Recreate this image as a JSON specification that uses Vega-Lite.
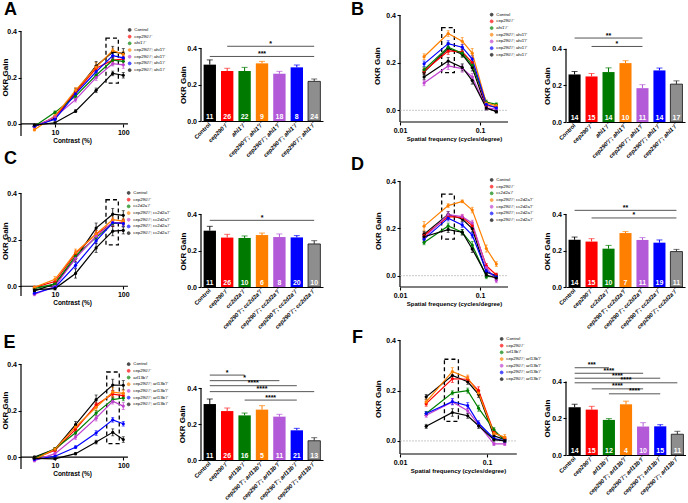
{
"$schema":"https://vega.github.io/schema/vega-lite/v6.json",
"padding":{"left":1,"top":1,"right":0,"bottom":0},
"background":"white",
"columns":4,
"spacing":{"row":44,"column":77},
"bounds":"flush",
"align":"each",
"resolve":{"scale":{"color":"independent","fill":"independent","x":"independent","y":"independent"},"legend":{"color":"independent"}},
"config":{"font":"Liberation Sans","view":{"stroke":null},
"axis":{"grid":false,"labelColor":"#000","titleColor":"#000","tickColor":"#000","domainColor":"#000","labelFont":"Liberation Sans","titleFont":"Liberation Sans","labelFlush":false,"labelOverlap":false,"titleBaseline":"bottom"},
"legend":{"labelFontSize":4.3,"labelFont":"Liberation Sans","labelColor":"#000","symbolSize":8,"symbolType":"circle","rowPadding":-1.3,"labelOffset":2.5,"padding":0,"labelLimit":200,"symbolStrokeWidth":1}},
"datasets":{
"boxes":[
{"p":"A","x1":55.8,"x2":84.6,"y1":0.176,"y2":0.37},
{"p":"C","x1":55.8,"x2":84.6,"y1":0.178,"y2":0.372},
{"p":"E","x1":57.2,"x2":87.3,"y1":0.058,"y2":0.367},
{"p":"B","x1":0.0332,"x2":0.0478,"y1":0.158,"y2":0.347},
{"p":"D","x1":0.0332,"x2":0.0478,"y1":0.155,"y2":0.346},
{"p":"F","x1":0.0324,"x2":0.0469,"y1":0.078,"y2":0.3245}],
"bars":[
{"p":"A","g":"Control","y":0.31,"hi":0.336,"n":11},
{"p":"A","g":"cep290⁻/⁻","y":0.275,"hi":0.29,"n":26},
{"p":"A","g":"ahi1⁻/⁻","y":0.275,"hi":0.295,"n":22},
{"p":"A","g":"cep290⁺/⁻; ahi1⁺/⁻","y":0.317,"hi":0.328,"n":9},
{"p":"A","g":"cep290⁻/⁻; ahi1⁺/⁻","y":0.26,"hi":0.273,"n":18},
{"p":"A","g":"cep290⁺/⁻; ahi1⁻/⁻","y":0.295,"hi":0.308,"n":8},
{"p":"A","g":"cep290⁻/⁻; ahi1⁻/⁻","y":0.218,"hi":0.231,"n":24},
{"p":"B","g":"Control","y":0.26,"hi":0.276,"n":14},
{"p":"B","g":"cep290⁻/⁻","y":0.249,"hi":0.265,"n":15},
{"p":"B","g":"ahi1⁻/⁻","y":0.273,"hi":0.296,"n":14},
{"p":"B","g":"cep290⁺/⁻; ahi1⁺/⁻","y":0.322,"hi":0.335,"n":10},
{"p":"B","g":"cep290⁻/⁻; ahi1⁺/⁻","y":0.185,"hi":0.204,"n":11},
{"p":"B","g":"cep290⁺/⁻; ahi1⁻/⁻","y":0.282,"hi":0.295,"n":14},
{"p":"B","g":"cep290⁻/⁻; ahi1⁻/⁻","y":0.207,"hi":0.225,"n":17},
{"p":"C","g":"Control","y":0.31,"hi":0.334,"n":11},
{"p":"C","g":"cep290⁻/⁻","y":0.272,"hi":0.29,"n":26},
{"p":"C","g":"cc2d2a⁻/⁻","y":0.27,"hi":0.281,"n":10},
{"p":"C","g":"cep290⁺/⁻; cc2d2a⁺/⁻","y":0.286,"hi":0.297,"n":6},
{"p":"C","g":"cep290⁻/⁻; cc2d2a⁺/⁻","y":0.275,"hi":0.292,"n":8},
{"p":"C","g":"cep290⁺/⁻; cc2d2a⁻/⁻","y":0.273,"hi":0.283,"n":20},
{"p":"C","g":"cep290⁻/⁻; cc2d2a⁻/⁻","y":0.237,"hi":0.255,"n":10},
{"p":"D","g":"Control","y":0.26,"hi":0.275,"n":14},
{"p":"D","g":"cep290⁻/⁻","y":0.25,"hi":0.266,"n":15},
{"p":"D","g":"cc2d2a⁻/⁻","y":0.211,"hi":0.229,"n":10},
{"p":"D","g":"cep290⁺/⁻; cc2d2a⁺/⁻","y":0.297,"hi":0.305,"n":7},
{"p":"D","g":"cep290⁻/⁻; cc2d2a⁺/⁻","y":0.259,"hi":0.272,"n":11},
{"p":"D","g":"cep290⁺/⁻; cc2d2a⁻/⁻","y":0.244,"hi":0.259,"n":19},
{"p":"D","g":"cep290⁻/⁻; cc2d2a⁻/⁻","y":0.195,"hi":0.207,"n":11},
{"p":"E","g":"Control","y":0.311,"hi":0.339,"n":11},
{"p":"E","g":"cep290⁻/⁻","y":0.272,"hi":0.289,"n":26},
{"p":"E","g":"arl13b⁻/⁻","y":0.248,"hi":0.261,"n":16},
{"p":"E","g":"cep290⁺/⁻; arl13b⁺/⁻","y":0.28,"hi":0.302,"n":5},
{"p":"E","g":"cep290⁻/⁻; arl13b⁺/⁻","y":0.241,"hi":0.254,"n":11},
{"p":"E","g":"cep290⁺/⁻; arl13b⁻/⁻","y":0.165,"hi":0.176,"n":21},
{"p":"E","g":"cep290⁻/⁻; arl13b⁻/⁻","y":0.107,"hi":0.124,"n":13},
{"p":"F","g":"Control","y":0.26,"hi":0.276,"n":14},
{"p":"F","g":"cep290⁻/⁻","y":0.247,"hi":0.265,"n":15},
{"p":"F","g":"arl13b⁻/⁻","y":0.191,"hi":0.198,"n":12},
{"p":"F","g":"cep290⁺/⁻; arl13b⁺/⁻","y":0.276,"hi":0.293,"n":4},
{"p":"F","g":"cep290⁻/⁻; arl13b⁺/⁻","y":0.155,"hi":0.176,"n":10},
{"p":"F","g":"cep290⁺/⁻; arl13b⁻/⁻","y":0.156,"hi":0.165,"n":15},
{"p":"F","g":"cep290⁻/⁻; arl13b⁻/⁻","y":0.113,"hi":0.129,"n":11}],
"sig":[
{"p":"A","a":"cep290⁻/⁻","b":"cep290⁻/⁻; ahi1⁻/⁻","y":0.411,"s":"*","m":"cep290⁺/⁻; ahi1⁺/⁻","h":1},
{"p":"A","a":"Control","b":"cep290⁻/⁻; ahi1⁻/⁻","y":0.355,"s":"***","m":"cep290⁺/⁻; ahi1⁺/⁻","h":0},
{"p":"B","a":"Control","b":"cep290⁻/⁻; ahi1⁺/⁻","y":0.459,"s":"**","m":"ahi1⁻/⁻","h":0},
{"p":"B","a":"cep290⁻/⁻","b":"cep290⁻/⁻; ahi1⁺/⁻","y":0.413,"s":"*","m":"ahi1⁻/⁻","h":1},
{"p":"C","a":"Control","b":"cep290⁻/⁻; cc2d2a⁻/⁻","y":0.367,"s":"*","m":"cep290⁺/⁻; cc2d2a⁺/⁻","h":0},
{"p":"D","a":"Control","b":"cep290⁻/⁻; cc2d2a⁻/⁻","y":0.422,"s":"**","m":"cep290⁺/⁻; cc2d2a⁺/⁻","h":0},
{"p":"D","a":"cep290⁻/⁻","b":"cep290⁻/⁻; cc2d2a⁻/⁻","y":0.38,"s":"*","m":"cep290⁺/⁻; cc2d2a⁺/⁻","h":1},
{"p":"E","a":"Control","b":"arl13b⁻/⁻","y":0.472,"s":"*","m":"cep290⁻/⁻","h":0},
{"p":"E","a":"Control","b":"cep290⁻/⁻; arl13b⁺/⁻","y":0.441,"s":"*","m":"arl13b⁻/⁻","h":0},
{"p":"E","a":"Control","b":"cep290⁺/⁻; arl13b⁻/⁻","y":0.413,"s":"****","m":"arl13b⁻/⁻","h":1},
{"p":"E","a":"Control","b":"cep290⁻/⁻; arl13b⁻/⁻","y":0.38,"s":"****","m":"cep290⁺/⁻; arl13b⁺/⁻","h":0},
{"p":"E","a":"arl13b⁻/⁻","b":"cep290⁺/⁻; arl13b⁻/⁻","y":0.333,"s":"****","m":"cep290⁺/⁻; arl13b⁺/⁻","h":1},
{"p":"F","a":"Control","b":"arl13b⁻/⁻","y":0.475,"s":"***","m":"cep290⁻/⁻","h":0},
{"p":"F","a":"Control","b":"cep290⁻/⁻; arl13b⁺/⁻","y":0.445,"s":"****","m":"arl13b⁻/⁻","h":0},
{"p":"F","a":"Control","b":"cep290⁺/⁻; arl13b⁻/⁻","y":0.418,"s":"****","m":"arl13b⁻/⁻","h":1},
{"p":"F","a":"Control","b":"cep290⁻/⁻; arl13b⁻/⁻","y":0.393,"s":"****","m":"cep290⁺/⁻; arl13b⁺/⁻","h":0},
{"p":"F","a":"cep290⁻/⁻","b":"cep290⁻/⁻; arl13b⁺/⁻","y":0.36,"s":"****","m":"arl13b⁻/⁻","h":1},
{"p":"F","a":"arl13b⁻/⁻","b":"cep290⁺/⁻; arl13b⁻/⁻","y":0.333,"s":"****","m":"cep290⁺/⁻; arl13b⁺/⁻","h":1}],
"lines":[
{"p":"A","g":"Control","x":5,"y":-0.01,"e":0.005},{"p":"A","g":"Control","x":10,"y":0.025,"e":0.006},{"p":"A","g":"Control","x":20,"y":0.14,"e":0.014},{"p":"A","g":"Control","x":40,"y":0.25,"e":0.02},{"p":"A","g":"Control","x":70,"y":0.31,"e":0.025},{"p":"A","g":"Control","x":100,"y":0.305,"e":0.02},
{"p":"A","g":"cep290⁻/⁻","x":5,"y":-0.012,"e":0.004},{"p":"A","g":"cep290⁻/⁻","x":10,"y":0.03,"e":0.006},{"p":"A","g":"cep290⁻/⁻","x":20,"y":0.135,"e":0.01},{"p":"A","g":"cep290⁻/⁻","x":40,"y":0.24,"e":0.012},{"p":"A","g":"cep290⁻/⁻","x":70,"y":0.275,"e":0.012},{"p":"A","g":"cep290⁻/⁻","x":100,"y":0.28,"e":0.012},
{"p":"A","g":"ahi1⁻/⁻","x":5,"y":-0.01,"e":0.004},{"p":"A","g":"ahi1⁻/⁻","x":10,"y":0.05,"e":0.006},{"p":"A","g":"ahi1⁻/⁻","x":20,"y":0.12,"e":0.01},{"p":"A","g":"ahi1⁻/⁻","x":40,"y":0.21,"e":0.012},{"p":"A","g":"ahi1⁻/⁻","x":70,"y":0.275,"e":0.02},{"p":"A","g":"ahi1⁻/⁻","x":100,"y":0.27,"e":0.015},
{"p":"A","g":"cep290⁺/⁻; ahi1⁺/⁻","x":5,"y":-0.025,"e":0.005},{"p":"A","g":"cep290⁺/⁻; ahi1⁺/⁻","x":10,"y":0.035,"e":0.008},{"p":"A","g":"cep290⁺/⁻; ahi1⁺/⁻","x":20,"y":0.145,"e":0.012},{"p":"A","g":"cep290⁺/⁻; ahi1⁺/⁻","x":40,"y":0.245,"e":0.02},{"p":"A","g":"cep290⁺/⁻; ahi1⁺/⁻","x":70,"y":0.317,"e":0.01},{"p":"A","g":"cep290⁺/⁻; ahi1⁺/⁻","x":100,"y":0.3,"e":0.012},
{"p":"A","g":"cep290⁻/⁻; ahi1⁺/⁻","x":5,"y":-0.012,"e":0.004},{"p":"A","g":"cep290⁻/⁻; ahi1⁺/⁻","x":10,"y":0.03,"e":0.005},{"p":"A","g":"cep290⁻/⁻; ahi1⁺/⁻","x":20,"y":0.105,"e":0.01},{"p":"A","g":"cep290⁻/⁻; ahi1⁺/⁻","x":40,"y":0.2,"e":0.012},{"p":"A","g":"cep290⁻/⁻; ahi1⁺/⁻","x":70,"y":0.26,"e":0.01},{"p":"A","g":"cep290⁻/⁻; ahi1⁺/⁻","x":100,"y":0.255,"e":0.015},
{"p":"A","g":"cep290⁺/⁻; ahi1⁻/⁻","x":5,"y":-0.01,"e":0.004},{"p":"A","g":"cep290⁺/⁻; ahi1⁻/⁻","x":10,"y":0.02,"e":0.005},{"p":"A","g":"cep290⁺/⁻; ahi1⁻/⁻","x":20,"y":0.13,"e":0.012},{"p":"A","g":"cep290⁺/⁻; ahi1⁻/⁻","x":40,"y":0.225,"e":0.012},{"p":"A","g":"cep290⁺/⁻; ahi1⁻/⁻","x":70,"y":0.295,"e":0.012},{"p":"A","g":"cep290⁺/⁻; ahi1⁻/⁻","x":100,"y":0.285,"e":0.015},
{"p":"A","g":"cep290⁻/⁻; ahi1⁻/⁻","x":5,"y":-0.005,"e":0.003},{"p":"A","g":"cep290⁻/⁻; ahi1⁻/⁻","x":10,"y":0.005,"e":0.004},{"p":"A","g":"cep290⁻/⁻; ahi1⁻/⁻","x":20,"y":0.055,"e":0.006},{"p":"A","g":"cep290⁻/⁻; ahi1⁻/⁻","x":40,"y":0.145,"e":0.01},{"p":"A","g":"cep290⁻/⁻; ahi1⁻/⁻","x":70,"y":0.218,"e":0.01},{"p":"A","g":"cep290⁻/⁻; ahi1⁻/⁻","x":100,"y":0.21,"e":0.012},
{"p":"B","g":"Control","x":0.02,"y":0.16,"e":0.012},{"p":"B","g":"Control","x":0.04,"y":0.26,"e":0.015},{"p":"B","g":"Control","x":0.06,"y":0.235,"e":0.012},{"p":"B","g":"Control","x":0.08,"y":0.18,"e":0.015},{"p":"B","g":"Control","x":0.12,"y":0.01,"e":0.008},{"p":"B","g":"Control","x":0.16,"y":-0.005,"e":0.006},
{"p":"B","g":"cep290⁻/⁻","x":0.02,"y":0.165,"e":0.012},{"p":"B","g":"cep290⁻/⁻","x":0.04,"y":0.249,"e":0.014},{"p":"B","g":"cep290⁻/⁻","x":0.06,"y":0.245,"e":0.012},{"p":"B","g":"cep290⁻/⁻","x":0.08,"y":0.2,"e":0.015},{"p":"B","g":"cep290⁻/⁻","x":0.12,"y":0.02,"e":0.008},{"p":"B","g":"cep290⁻/⁻","x":0.16,"y":0.015,"e":0.006},
{"p":"B","g":"ahi1⁻/⁻","x":0.02,"y":0.17,"e":0.012},{"p":"B","g":"ahi1⁻/⁻","x":0.04,"y":0.265,"e":0.02},{"p":"B","g":"ahi1⁻/⁻","x":0.06,"y":0.24,"e":0.015},{"p":"B","g":"ahi1⁻/⁻","x":0.08,"y":0.19,"e":0.015},{"p":"B","g":"ahi1⁻/⁻","x":0.12,"y":0.035,"e":0.008},{"p":"B","g":"ahi1⁻/⁻","x":0.16,"y":0.025,"e":0.006},
{"p":"B","g":"cep290⁺/⁻; ahi1⁺/⁻","x":0.02,"y":0.225,"e":0.012},{"p":"B","g":"cep290⁺/⁻; ahi1⁺/⁻","x":0.04,"y":0.322,"e":0.012},{"p":"B","g":"cep290⁺/⁻; ahi1⁺/⁻","x":0.06,"y":0.29,"e":0.015},{"p":"B","g":"cep290⁺/⁻; ahi1⁺/⁻","x":0.08,"y":0.24,"e":0.02},{"p":"B","g":"cep290⁺/⁻; ahi1⁺/⁻","x":0.12,"y":0.03,"e":0.008},{"p":"B","g":"cep290⁺/⁻; ahi1⁺/⁻","x":0.16,"y":0.02,"e":0.006},
{"p":"B","g":"cep290⁻/⁻; ahi1⁺/⁻","x":0.02,"y":0.115,"e":0.012},{"p":"B","g":"cep290⁻/⁻; ahi1⁺/⁻","x":0.04,"y":0.186,"e":0.015},{"p":"B","g":"cep290⁻/⁻; ahi1⁺/⁻","x":0.06,"y":0.175,"e":0.015},{"p":"B","g":"cep290⁻/⁻; ahi1⁺/⁻","x":0.08,"y":0.14,"e":0.015},{"p":"B","g":"cep290⁻/⁻; ahi1⁺/⁻","x":0.12,"y":0.01,"e":0.008},{"p":"B","g":"cep290⁻/⁻; ahi1⁺/⁻","x":0.16,"y":0.005,"e":0.006},
{"p":"B","g":"cep290⁺/⁻; ahi1⁻/⁻","x":0.02,"y":0.195,"e":0.012},{"p":"B","g":"cep290⁺/⁻; ahi1⁻/⁻","x":0.04,"y":0.28,"e":0.012},{"p":"B","g":"cep290⁺/⁻; ahi1⁻/⁻","x":0.06,"y":0.265,"e":0.012},{"p":"B","g":"cep290⁺/⁻; ahi1⁻/⁻","x":0.08,"y":0.215,"e":0.015},{"p":"B","g":"cep290⁺/⁻; ahi1⁻/⁻","x":0.12,"y":0.025,"e":0.008},{"p":"B","g":"cep290⁺/⁻; ahi1⁻/⁻","x":0.16,"y":0.01,"e":0.006},
{"p":"B","g":"cep290⁻/⁻; ahi1⁻/⁻","x":0.02,"y":0.14,"e":0.012},{"p":"B","g":"cep290⁻/⁻; ahi1⁻/⁻","x":0.04,"y":0.207,"e":0.015},{"p":"B","g":"cep290⁻/⁻; ahi1⁻/⁻","x":0.06,"y":0.18,"e":0.015},{"p":"B","g":"cep290⁻/⁻; ahi1⁻/⁻","x":0.08,"y":0.125,"e":0.015},{"p":"B","g":"cep290⁻/⁻; ahi1⁻/⁻","x":0.12,"y":0.01,"e":0.008},{"p":"B","g":"cep290⁻/⁻; ahi1⁻/⁻","x":0.16,"y":-0.005,"e":0.006},
{"p":"C","g":"Control","x":5,"y":-0.02,"e":0.006},{"p":"C","g":"Control","x":10,"y":0.01,"e":0.008},{"p":"C","g":"Control","x":20,"y":0.12,"e":0.015},{"p":"C","g":"Control","x":40,"y":0.25,"e":0.022},{"p":"C","g":"Control","x":70,"y":0.31,"e":0.025},{"p":"C","g":"Control","x":100,"y":0.305,"e":0.02},
{"p":"C","g":"cep290⁻/⁻","x":5,"y":-0.005,"e":0.005},{"p":"C","g":"cep290⁻/⁻","x":10,"y":0.02,"e":0.008},{"p":"C","g":"cep290⁻/⁻","x":20,"y":0.14,"e":0.012},{"p":"C","g":"cep290⁻/⁻","x":40,"y":0.225,"e":0.015},{"p":"C","g":"cep290⁻/⁻","x":70,"y":0.272,"e":0.015},{"p":"C","g":"cep290⁻/⁻","x":100,"y":0.275,"e":0.012},
{"p":"C","g":"cc2d2a⁻/⁻","x":5,"y":-0.01,"e":0.005},{"p":"C","g":"cc2d2a⁻/⁻","x":10,"y":0.01,"e":0.006},{"p":"C","g":"cc2d2a⁻/⁻","x":20,"y":0.13,"e":0.012},{"p":"C","g":"cc2d2a⁻/⁻","x":40,"y":0.21,"e":0.012},{"p":"C","g":"cc2d2a⁻/⁻","x":70,"y":0.27,"e":0.01},{"p":"C","g":"cc2d2a⁻/⁻","x":100,"y":0.27,"e":0.012},
{"p":"C","g":"cep290⁺/⁻; cc2d2a⁺/⁻","x":5,"y":-0.005,"e":0.005},{"p":"C","g":"cep290⁺/⁻; cc2d2a⁺/⁻","x":10,"y":0.03,"e":0.012},{"p":"C","g":"cep290⁺/⁻; cc2d2a⁺/⁻","x":20,"y":0.145,"e":0.015},{"p":"C","g":"cep290⁺/⁻; cc2d2a⁺/⁻","x":40,"y":0.225,"e":0.015},{"p":"C","g":"cep290⁺/⁻; cc2d2a⁺/⁻","x":70,"y":0.286,"e":0.012},{"p":"C","g":"cep290⁺/⁻; cc2d2a⁺/⁻","x":100,"y":0.28,"e":0.012},
{"p":"C","g":"cep290⁻/⁻; cc2d2a⁺/⁻","x":5,"y":-0.035,"e":0.006},{"p":"C","g":"cep290⁻/⁻; cc2d2a⁺/⁻","x":10,"y":0.0,"e":0.006},{"p":"C","g":"cep290⁻/⁻; cc2d2a⁺/⁻","x":20,"y":0.12,"e":0.012},{"p":"C","g":"cep290⁻/⁻; cc2d2a⁺/⁻","x":40,"y":0.215,"e":0.015},{"p":"C","g":"cep290⁻/⁻; cc2d2a⁺/⁻","x":70,"y":0.275,"e":0.015},{"p":"C","g":"cep290⁻/⁻; cc2d2a⁺/⁻","x":100,"y":0.27,"e":0.012},
{"p":"C","g":"cep290⁺/⁻; cc2d2a⁻/⁻","x":5,"y":-0.03,"e":0.006},{"p":"C","g":"cep290⁺/⁻; cc2d2a⁻/⁻","x":10,"y":-0.005,"e":0.006},{"p":"C","g":"cep290⁺/⁻; cc2d2a⁻/⁻","x":20,"y":0.09,"e":0.012},{"p":"C","g":"cep290⁺/⁻; cc2d2a⁻/⁻","x":40,"y":0.195,"e":0.012},{"p":"C","g":"cep290⁺/⁻; cc2d2a⁻/⁻","x":70,"y":0.273,"e":0.01},{"p":"C","g":"cep290⁺/⁻; cc2d2a⁻/⁻","x":100,"y":0.27,"e":0.012},
{"p":"C","g":"cep290⁻/⁻; cc2d2a⁻/⁻","x":5,"y":-0.015,"e":0.005},{"p":"C","g":"cep290⁻/⁻; cc2d2a⁻/⁻","x":10,"y":-0.01,"e":0.006},{"p":"C","g":"cep290⁻/⁻; cc2d2a⁻/⁻","x":20,"y":0.055,"e":0.02},{"p":"C","g":"cep290⁻/⁻; cc2d2a⁻/⁻","x":40,"y":0.165,"e":0.02},{"p":"C","g":"cep290⁻/⁻; cc2d2a⁻/⁻","x":70,"y":0.237,"e":0.02},{"p":"C","g":"cep290⁻/⁻; cc2d2a⁻/⁻","x":100,"y":0.24,"e":0.015},
{"p":"D","g":"Control","x":0.02,"y":0.176,"e":0.012},{"p":"D","g":"Control","x":0.04,"y":0.26,"e":0.012},{"p":"D","g":"Control","x":0.06,"y":0.24,"e":0.01},{"p":"D","g":"Control","x":0.08,"y":0.2,"e":0.015},{"p":"D","g":"Control","x":0.12,"y":0.014,"e":0.01},{"p":"D","g":"Control","x":0.16,"y":0.0,"e":0.008},
{"p":"D","g":"cep290⁻/⁻","x":0.02,"y":0.17,"e":0.012},{"p":"D","g":"cep290⁻/⁻","x":0.04,"y":0.25,"e":0.012},{"p":"D","g":"cep290⁻/⁻","x":0.06,"y":0.247,"e":0.01},{"p":"D","g":"cep290⁻/⁻","x":0.08,"y":0.212,"e":0.015},{"p":"D","g":"cep290⁻/⁻","x":0.12,"y":0.042,"e":0.01},{"p":"D","g":"cep290⁻/⁻","x":0.16,"y":0.003,"e":0.008},
{"p":"D","g":"cc2d2a⁻/⁻","x":0.02,"y":0.141,"e":0.01},{"p":"D","g":"cc2d2a⁻/⁻","x":0.04,"y":0.211,"e":0.012},{"p":"D","g":"cc2d2a⁻/⁻","x":0.06,"y":0.184,"e":0.01},{"p":"D","g":"cc2d2a⁻/⁻","x":0.08,"y":0.13,"e":0.015},{"p":"D","g":"cc2d2a⁻/⁻","x":0.12,"y":-0.003,"e":0.01},{"p":"D","g":"cc2d2a⁻/⁻","x":0.16,"y":-0.005,"e":0.008},
{"p":"D","g":"cep290⁺/⁻; cc2d2a⁺/⁻","x":0.02,"y":0.21,"e":0.02},{"p":"D","g":"cep290⁺/⁻; cc2d2a⁺/⁻","x":0.04,"y":0.297,"e":0.008},{"p":"D","g":"cep290⁺/⁻; cc2d2a⁺/⁻","x":0.06,"y":0.315,"e":0.006},{"p":"D","g":"cep290⁺/⁻; cc2d2a⁺/⁻","x":0.08,"y":0.278,"e":0.012},{"p":"D","g":"cep290⁺/⁻; cc2d2a⁺/⁻","x":0.12,"y":0.115,"e":0.015},{"p":"D","g":"cep290⁺/⁻; cc2d2a⁺/⁻","x":0.16,"y":0.049,"e":0.01},
{"p":"D","g":"cep290⁻/⁻; cc2d2a⁺/⁻","x":0.02,"y":0.16,"e":0.012},{"p":"D","g":"cep290⁻/⁻; cc2d2a⁺/⁻","x":0.04,"y":0.259,"e":0.012},{"p":"D","g":"cep290⁻/⁻; cc2d2a⁺/⁻","x":0.06,"y":0.25,"e":0.01},{"p":"D","g":"cep290⁻/⁻; cc2d2a⁺/⁻","x":0.08,"y":0.223,"e":0.012},{"p":"D","g":"cep290⁻/⁻; cc2d2a⁺/⁻","x":0.12,"y":0.035,"e":0.01},{"p":"D","g":"cep290⁻/⁻; cc2d2a⁺/⁻","x":0.16,"y":-0.02,"e":0.01},
{"p":"D","g":"cep290⁺/⁻; cc2d2a⁻/⁻","x":0.02,"y":0.155,"e":0.012},{"p":"D","g":"cep290⁺/⁻; cc2d2a⁻/⁻","x":0.04,"y":0.244,"e":0.012},{"p":"D","g":"cep290⁺/⁻; cc2d2a⁻/⁻","x":0.06,"y":0.215,"e":0.01},{"p":"D","g":"cep290⁺/⁻; cc2d2a⁻/⁻","x":0.08,"y":0.172,"e":0.012},{"p":"D","g":"cep290⁺/⁻; cc2d2a⁻/⁻","x":0.12,"y":0.02,"e":0.01},{"p":"D","g":"cep290⁺/⁻; cc2d2a⁻/⁻","x":0.16,"y":-0.005,"e":0.008},
{"p":"D","g":"cep290⁻/⁻; cc2d2a⁻/⁻","x":0.02,"y":0.165,"e":0.012},{"p":"D","g":"cep290⁻/⁻; cc2d2a⁻/⁻","x":0.04,"y":0.195,"e":0.012},{"p":"D","g":"cep290⁻/⁻; cc2d2a⁻/⁻","x":0.06,"y":0.184,"e":0.012},{"p":"D","g":"cep290⁻/⁻; cc2d2a⁻/⁻","x":0.08,"y":0.113,"e":0.015},{"p":"D","g":"cep290⁻/⁻; cc2d2a⁻/⁻","x":0.12,"y":0.003,"e":0.01},{"p":"D","g":"cep290⁻/⁻; cc2d2a⁻/⁻","x":0.16,"y":-0.01,"e":0.008},
{"p":"E","g":"Control","x":5,"y":0.0,"e":0.005},{"p":"E","g":"Control","x":10,"y":0.035,"e":0.006},{"p":"E","g":"Control","x":20,"y":0.14,"e":0.014},{"p":"E","g":"Control","x":40,"y":0.248,"e":0.02},{"p":"E","g":"Control","x":70,"y":0.311,"e":0.025},{"p":"E","g":"Control","x":100,"y":0.31,"e":0.02},
{"p":"E","g":"cep290⁻/⁻","x":5,"y":-0.005,"e":0.005},{"p":"E","g":"cep290⁻/⁻","x":10,"y":0.03,"e":0.006},{"p":"E","g":"cep290⁻/⁻","x":20,"y":0.12,"e":0.01},{"p":"E","g":"cep290⁻/⁻","x":40,"y":0.225,"e":0.012},{"p":"E","g":"cep290⁻/⁻","x":70,"y":0.272,"e":0.015},{"p":"E","g":"cep290⁻/⁻","x":100,"y":0.265,"e":0.012},
{"p":"E","g":"arl13b⁻/⁻","x":5,"y":-0.005,"e":0.005},{"p":"E","g":"arl13b⁻/⁻","x":10,"y":0.035,"e":0.006},{"p":"E","g":"arl13b⁻/⁻","x":20,"y":0.105,"e":0.01},{"p":"E","g":"arl13b⁻/⁻","x":40,"y":0.19,"e":0.012},{"p":"E","g":"arl13b⁻/⁻","x":70,"y":0.248,"e":0.012},{"p":"E","g":"arl13b⁻/⁻","x":100,"y":0.255,"e":0.012},
{"p":"E","g":"cep290⁺/⁻; arl13b⁺/⁻","x":5,"y":-0.01,"e":0.005},{"p":"E","g":"cep290⁺/⁻; arl13b⁺/⁻","x":10,"y":0.035,"e":0.006},{"p":"E","g":"cep290⁺/⁻; arl13b⁺/⁻","x":20,"y":0.13,"e":0.012},{"p":"E","g":"cep290⁺/⁻; arl13b⁺/⁻","x":40,"y":0.215,"e":0.015},{"p":"E","g":"cep290⁺/⁻; arl13b⁺/⁻","x":70,"y":0.28,"e":0.02},{"p":"E","g":"cep290⁺/⁻; arl13b⁺/⁻","x":100,"y":0.275,"e":0.015},
{"p":"E","g":"cep290⁻/⁻; arl13b⁺/⁻","x":5,"y":-0.015,"e":0.005},{"p":"E","g":"cep290⁻/⁻; arl13b⁺/⁻","x":10,"y":0.015,"e":0.006},{"p":"E","g":"cep290⁻/⁻; arl13b⁺/⁻","x":20,"y":0.087,"e":0.01},{"p":"E","g":"cep290⁻/⁻; arl13b⁺/⁻","x":40,"y":0.168,"e":0.012},{"p":"E","g":"cep290⁻/⁻; arl13b⁺/⁻","x":70,"y":0.241,"e":0.012},{"p":"E","g":"cep290⁻/⁻; arl13b⁺/⁻","x":100,"y":0.22,"e":0.015},
{"p":"E","g":"cep290⁺/⁻; arl13b⁻/⁻","x":5,"y":-0.01,"e":0.004},{"p":"E","g":"cep290⁺/⁻; arl13b⁻/⁻","x":10,"y":0.004,"e":0.005},{"p":"E","g":"cep290⁺/⁻; arl13b⁻/⁻","x":20,"y":0.043,"e":0.006},{"p":"E","g":"cep290⁺/⁻; arl13b⁻/⁻","x":40,"y":0.104,"e":0.01},{"p":"E","g":"cep290⁺/⁻; arl13b⁻/⁻","x":70,"y":0.161,"e":0.01},{"p":"E","g":"cep290⁺/⁻; arl13b⁻/⁻","x":100,"y":0.144,"e":0.01},
{"p":"E","g":"cep290⁻/⁻; arl13b⁻/⁻","x":5,"y":-0.005,"e":0.004},{"p":"E","g":"cep290⁻/⁻; arl13b⁻/⁻","x":10,"y":-0.007,"e":0.004},{"p":"E","g":"cep290⁻/⁻; arl13b⁻/⁻","x":20,"y":0.015,"e":0.005},{"p":"E","g":"cep290⁻/⁻; arl13b⁻/⁻","x":40,"y":0.065,"e":0.008},{"p":"E","g":"cep290⁻/⁻; arl13b⁻/⁻","x":70,"y":0.107,"e":0.015},{"p":"E","g":"cep290⁻/⁻; arl13b⁻/⁻","x":100,"y":0.076,"e":0.012},
{"p":"F","g":"Control","x":0.02,"y":0.175,"e":0.01},{"p":"F","g":"Control","x":0.04,"y":0.26,"e":0.012},{"p":"F","g":"Control","x":0.06,"y":0.235,"e":0.01},{"p":"F","g":"Control","x":0.08,"y":0.185,"e":0.012},{"p":"F","g":"Control","x":0.12,"y":0.02,"e":0.008},{"p":"F","g":"Control","x":0.16,"y":0.005,"e":0.006},
{"p":"F","g":"cep290⁻/⁻","x":0.02,"y":0.148,"e":0.01},{"p":"F","g":"cep290⁻/⁻","x":0.04,"y":0.247,"e":0.015},{"p":"F","g":"cep290⁻/⁻","x":0.06,"y":0.245,"e":0.012},{"p":"F","g":"cep290⁻/⁻","x":0.08,"y":0.2,"e":0.015},{"p":"F","g":"cep290⁻/⁻","x":0.12,"y":0.035,"e":0.008},{"p":"F","g":"cep290⁻/⁻","x":0.16,"y":0.01,"e":0.008},
{"p":"F","g":"arl13b⁻/⁻","x":0.02,"y":0.109,"e":0.008},{"p":"F","g":"arl13b⁻/⁻","x":0.04,"y":0.191,"e":0.008},{"p":"F","g":"arl13b⁻/⁻","x":0.06,"y":0.2,"e":0.01},{"p":"F","g":"arl13b⁻/⁻","x":0.08,"y":0.13,"e":0.012},{"p":"F","g":"arl13b⁻/⁻","x":0.12,"y":0.045,"e":0.008},{"p":"F","g":"arl13b⁻/⁻","x":0.16,"y":0.0,"e":0.006},
{"p":"F","g":"cep290⁺/⁻; arl13b⁺/⁻","x":0.02,"y":0.155,"e":0.012},{"p":"F","g":"cep290⁺/⁻; arl13b⁺/⁻","x":0.04,"y":0.276,"e":0.015},{"p":"F","g":"cep290⁺/⁻; arl13b⁺/⁻","x":0.06,"y":0.25,"e":0.012},{"p":"F","g":"cep290⁺/⁻; arl13b⁺/⁻","x":0.08,"y":0.19,"e":0.012},{"p":"F","g":"cep290⁺/⁻; arl13b⁺/⁻","x":0.12,"y":0.03,"e":0.01},{"p":"F","g":"cep290⁺/⁻; arl13b⁺/⁻","x":0.16,"y":0.015,"e":0.01},
{"p":"F","g":"cep290⁻/⁻; arl13b⁺/⁻","x":0.02,"y":0.102,"e":0.008},{"p":"F","g":"cep290⁻/⁻; arl13b⁺/⁻","x":0.04,"y":0.155,"e":0.012},{"p":"F","g":"cep290⁻/⁻; arl13b⁺/⁻","x":0.06,"y":0.12,"e":0.01},{"p":"F","g":"cep290⁻/⁻; arl13b⁺/⁻","x":0.08,"y":0.065,"e":0.01},{"p":"F","g":"cep290⁻/⁻; arl13b⁺/⁻","x":0.12,"y":-0.012,"e":0.006},{"p":"F","g":"cep290⁻/⁻; arl13b⁺/⁻","x":0.16,"y":-0.012,"e":0.006},
{"p":"F","g":"cep290⁺/⁻; arl13b⁻/⁻","x":0.02,"y":0.109,"e":0.008},{"p":"F","g":"cep290⁺/⁻; arl13b⁻/⁻","x":0.04,"y":0.156,"e":0.012},{"p":"F","g":"cep290⁺/⁻; arl13b⁻/⁻","x":0.06,"y":0.14,"e":0.012},{"p":"F","g":"cep290⁺/⁻; arl13b⁻/⁻","x":0.08,"y":0.07,"e":0.01},{"p":"F","g":"cep290⁺/⁻; arl13b⁻/⁻","x":0.12,"y":0.01,"e":0.006},{"p":"F","g":"cep290⁺/⁻; arl13b⁻/⁻","x":0.16,"y":0.0,"e":0.006},
{"p":"F","g":"cep290⁻/⁻; arl13b⁻/⁻","x":0.02,"y":0.058,"e":0.008},{"p":"F","g":"cep290⁻/⁻; arl13b⁻/⁻","x":0.04,"y":0.113,"e":0.015},{"p":"F","g":"cep290⁻/⁻; arl13b⁻/⁻","x":0.06,"y":0.1,"e":0.01},{"p":"F","g":"cep290⁻/⁻; arl13b⁻/⁻","x":0.08,"y":0.06,"e":0.01},{"p":"F","g":"cep290⁻/⁻; arl13b⁻/⁻","x":0.12,"y":0.005,"e":0.006},{"p":"F","g":"cep290⁻/⁻; arl13b⁻/⁻","x":0.16,"y":0.0,"e":0.006}
]},
"concat":[
{"width":103,"height":121,
"layer":[
{"data":{"values":[{}]},"mark":{"type":"text","text":"A","fontSize":18,"fontWeight":"bold","align":"left","baseline":"alphabetic","color":"#000"},"encoding":{"x":{"datum":1.79,"type":"quantitative"},"y":{"datum":0.47,"type":"quantitative"}}},
{"data":{"values":[{}]},"mark":{"type":"rule","color":"#000","strokeWidth":1.2},"encoding":{"x":{"datum":3.18,"type":"quantitative"},"y":{"datum":-0.052,"type":"quantitative"},"y2":{"datum":0.4}}},
{"data":{"values":[{}]},"mark":{"type":"rule","color":"#000","strokeWidth":1.2},"encoding":{"x":{"datum":3.18,"type":"quantitative"},"x2":{"datum":117},"y":{"datum":0,"type":"quantitative"}}},
{"data":{"name":"boxes"},"transform":[{"filter":"datum.p=='A'"}],"mark":{"type":"rect","fill":"#fff","fillOpacity":0,"stroke":"#000","strokeWidth":1.3,"strokeDash":[4,3]},"encoding":{"x":{"field":"x1","type":"quantitative"},"x2":{"field":"x2"},"y":{"field":"y1","type":"quantitative"},"y2":{"field":"y2"}}},
{"data":{"name":"lines"},"transform":[{"filter":"datum.p=='A'"}],"mark":{"type":"errorbar","ticks":true,"size":3,"thickness":0.8},
"encoding":{"x":{"field":"x","type":"quantitative","scale":{"type":"log","domain":[3.18,102.4],"nice":false},"axis":{"values":[10,100],"format":"d","domain":false,"offset":-12,"tickSize":3,"tickWidth":1.1,"labelFontSize":7,"labelFontWeight":"bold","labelPadding":1.5,"title":"Contrast (%)","titleFontSize":6.5,"titleFontWeight":"bold","titlePadding":2,"titleX":51,"titleBaseline":"top"}},
"y":{"field":"y","type":"quantitative","scale":{"domain":[-0.052,0.47],"nice":false,"zero":false},"axis":{"values":[0,0.1,0.2,0.3,0.4],"format":".1f","domain":false,"tickSize":3,"tickWidth":1.1,"labelFontSize":7,"labelFontWeight":"bold","labelPadding":1.5,"title":"OKR Gain","titleFontSize":8,"titleFontWeight":"bold","titleX":-12,"titleY":62}},
"yError":{"field":"e"},
"color":{"field":"g","type":"nominal","scale":{"domain":["Control","cep290⁻/⁻","ahi1⁻/⁻","cep290⁺/⁻; ahi1⁺/⁻","cep290⁻/⁻; ahi1⁺/⁻","cep290⁺/⁻; ahi1⁻/⁻","cep290⁻/⁻; ahi1⁻/⁻"],"range":["#000000","#ff0000","#008000","#ff8000","#c040d0","#0000ff","#000000"]},"legend":{"orient":"none","legendX":106.5,"legendY":12.8,"title":null,"symbolSize":8,"symbolType":"circle"}}}},
{"data":{"name":"lines"},"transform":[{"filter":"datum.p=='A'"}],"mark":{"type":"line","strokeWidth":1.2},
"encoding":{"x":{"field":"x","type":"quantitative"},"y":{"field":"y","type":"quantitative"},"color":{"field":"g","type":"nominal","legend":{"orient":"none","legendX":106.5,"legendY":12.8,"title":null,"symbolSize":8,"symbolType":"circle"}}}},
{"data":{"name":"lines"},"transform":[{"filter":"datum.p=='A'"}],"mark":{"type":"point","filled":true,"size":10,"opacity":1},
"encoding":{"x":{"field":"x","type":"quantitative"},"y":{"field":"y","type":"quantitative"},"color":{"field":"g","type":"nominal","legend":{"orient":"none","legendX":106.5,"legendY":12.8,"title":null,"symbolSize":8,"symbolType":"circle"}}}}
]},
{"width":122,"height":106,
"layer":[
{"data":{"values":[{}]},"mark":{"type":"rule","color":"#000","strokeWidth":1.2},"encoding":{"x":{"datum":"Control","type":"nominal","bandPosition":-0.211},"y":{"datum":0,"type":"quantitative"},"y2":{"datum":0.4}}},
{"data":{"name":"bars"},"transform":[{"filter":"datum.p=='A'"}],"mark":{"type":"bar","strokeWidth":0.8},
"encoding":{"x":{"field":"g","type":"nominal","scale":{"domain":["Control","cep290⁻/⁻","ahi1⁻/⁻","cep290⁺/⁻; ahi1⁺/⁻","cep290⁻/⁻; ahi1⁺/⁻","cep290⁺/⁻; ahi1⁻/⁻","cep290⁻/⁻; ahi1⁻/⁻"],"paddingInner":0.29,"paddingOuter":0.15},"axis":{"title":null,"labelAngle":-45,"labelFontSize":5.8,"labelFontWeight":"bold","labelFontStyle":{"condition":{"test":"datum.value=='Control'","value":"normal"},"value":"italic"},"ticks":false,"labelPadding":2,"labelLimit":200,"domainWidth":1.2}},
"y":{"field":"y","type":"quantitative","scale":{"domain":[0,0.583],"nice":false},"axis":{"values":[0,0.1,0.2,0.3,0.4],"format":".1f","domain":false,"tickSize":3,"tickWidth":1.1,"labelFontSize":7,"labelFontWeight":"bold","labelPadding":1.5,"title":"OKR Gain","titleFontSize":8,"titleFontWeight":"bold","titleX":-14,"titleY":69.7}},
"fill":{"field":"g","type":"nominal","scale":{"domain":["Control","cep290⁻/⁻","ahi1⁻/⁻","cep290⁺/⁻; ahi1⁺/⁻","cep290⁻/⁻; ahi1⁺/⁻","cep290⁺/⁻; ahi1⁻/⁻","cep290⁻/⁻; ahi1⁻/⁻"],"range":["#000000","#ff0000","#007a00","#ff7f00","#b35ad8","#0000ff","#8e8e8e"]},"legend":null},
"stroke":{"condition":{"test":"indexof(datum.g,'⁻/⁻; ')>0 && slice(datum.g,-3)=='⁻/⁻'","value":"#111"},"value":"transparent"}}},
{"data":{"name":"bars"},"transform":[{"filter":"datum.p=='A'"}],"mark":{"type":"rule","strokeWidth":1},
"encoding":{"x":{"field":"g","type":"nominal"},"y":{"field":"y","type":"quantitative"},"y2":{"field":"hi"},"color":{"field":"g","type":"nominal","scale":{"domain":["Control","cep290⁻/⁻","ahi1⁻/⁻","cep290⁺/⁻; ahi1⁺/⁻","cep290⁻/⁻; ahi1⁺/⁻","cep290⁺/⁻; ahi1⁻/⁻","cep290⁻/⁻; ahi1⁻/⁻"],"range":["#000000","#ff3030","#007a00","#ff7f00","#b35ad8","#0000ff","#333333"]},"legend":null}}},
{"data":{"name":"bars"},"transform":[{"filter":"datum.p=='A'"}],"mark":{"type":"tick","thickness":1,"size":6},
"encoding":{"x":{"field":"g","type":"nominal"},"y":{"field":"hi","type":"quantitative"},"color":{"field":"g","type":"nominal","legend":null}}},
{"data":{"name":"bars"},"transform":[{"filter":"datum.p=='A'"}],"mark":{"type":"text","color":"#fff","fontSize":7,"fontWeight":"bold","baseline":"bottom","dy":-1.5},
"encoding":{"x":{"field":"g","type":"nominal"},"y":{"datum":0,"type":"quantitative"},"text":{"field":"n"}}},
{"data":{"name":"sig"},"transform":[{"filter":"datum.p=='A'"}],"mark":{"type":"rule","color":"#555","strokeWidth":1},
"encoding":{"x":{"field":"a","type":"nominal"},"x2":{"field":"b"},"y":{"field":"y","type":"quantitative"}}},
{"data":{"name":"sig"},"transform":[{"filter":"datum.p=='A' && datum.h==0"}],"mark":{"type":"text","fontSize":7,"fontWeight":"bold","baseline":"bottom","dy":0.5,"color":"#000"},
"encoding":{"x":{"field":"m","type":"nominal"},"y":{"field":"y","type":"quantitative"},"text":{"field":"s"}}},
{"data":{"name":"sig"},"transform":[{"filter":"datum.p=='A' && datum.h==1"}],"mark":{"type":"text","fontSize":7,"fontWeight":"bold","baseline":"bottom","dy":0.5,"color":"#000"},
"encoding":{"x":{"field":"m","type":"nominal","bandPosition":1.2},"y":{"field":"y","type":"quantitative"},"text":{"field":"s"}}}
]},
{"width":89,"height":107,
"layer":[
{"data":{"values":[{}]},"mark":{"type":"text","text":"B","fontSize":18,"fontWeight":"bold","align":"left","baseline":"alphabetic","color":"#000"},"encoding":{"x":{"datum":0.00244,"type":"quantitative"},"y":{"datum":0.399,"type":"quantitative"}}},
{"data":{"values":[{}]},"mark":{"type":"rule","color":"#000","strokeWidth":1.2},"encoding":{"x":{"datum":0.01,"type":"quantitative"},"y":{"datum":-0.049,"type":"quantitative"},"y2":{"datum":0.4}}},
{"data":{"values":[{}]},"mark":{"type":"rule","color":"#000","strokeWidth":1.2},"encoding":{"x":{"datum":0.01,"type":"quantitative"},"x2":{"datum":0.224},"y":{"datum":-0.049,"type":"quantitative"}}},
{"data":{"values":[{}]},"mark":{"type":"rule","color":"#bbbbbb","strokeWidth":0.8,"strokeDash":[2,1]},"encoding":{"x":{"datum":0.01,"type":"quantitative"},"x2":{"datum":0.224},"y":{"datum":0,"type":"quantitative"}}},
{"data":{"name":"boxes"},"transform":[{"filter":"datum.p=='B'"}],"mark":{"type":"rect","fill":"#fff","fillOpacity":0,"stroke":"#000","strokeWidth":1.3,"strokeDash":[4,3]},"encoding":{"x":{"field":"x1","type":"quantitative"},"x2":{"field":"x2"},"y":{"field":"y1","type":"quantitative"},"y2":{"field":"y2"}}},
{"data":{"name":"lines"},"transform":[{"filter":"datum.p=='B'"}],"mark":{"type":"errorbar","ticks":true,"size":3,"thickness":0.8},
"encoding":{"x":{"field":"x","type":"quantitative","scale":{"type":"log","domain":[0.01,0.1296],"nice":false},"axis":{"values":[0.01,0.1],"format":".2~f","domain":false,"tickSize":3,"tickWidth":1.1,"labelFontSize":7,"labelFontWeight":"bold","labelPadding":1.5,"title":"Spatial frequency (cycles/degree)","titleFontSize":6,"titleFontWeight":"bold","titlePadding":2,"titleX":54,"titleBaseline":"top"}},
"y":{"field":"y","type":"quantitative","scale":{"domain":[-0.049,0.4],"nice":false,"zero":false},"axis":{"values":[0,0.1,0.2,0.3,0.4],"format":".1f","domain":false,"tickSize":3,"tickWidth":1.1,"labelFontSize":7,"labelFontWeight":"bold","labelPadding":1.5,"title":"OKR Gain","titleFontSize":8,"titleFontWeight":"bold","titleX":-19,"titleY":50.7}},
"yError":{"field":"e"},
"color":{"field":"g","type":"nominal","scale":{"domain":["Control","cep290⁻/⁻","ahi1⁻/⁻","cep290⁺/⁻; ahi1⁺/⁻","cep290⁻/⁻; ahi1⁺/⁻","cep290⁺/⁻; ahi1⁻/⁻","cep290⁻/⁻; ahi1⁻/⁻"],"range":["#000000","#ff0000","#008000","#ff8000","#c040d0","#0000ff","#000000"]},"legend":{"orient":"none","legendX":89.5,"legendY":-2.5,"title":null,"symbolSize":8,"symbolType":"circle"}}}},
{"data":{"name":"lines"},"transform":[{"filter":"datum.p=='B'"}],"mark":{"type":"line","strokeWidth":1.2},
"encoding":{"x":{"field":"x","type":"quantitative"},"y":{"field":"y","type":"quantitative"},"color":{"field":"g","type":"nominal","legend":{"orient":"none","legendX":89.5,"legendY":-2.5,"title":null,"symbolSize":8,"symbolType":"circle"}}}},
{"data":{"name":"lines"},"transform":[{"filter":"datum.p=='B'"}],"mark":{"type":"point","filled":true,"size":10,"opacity":1},
"encoding":{"x":{"field":"x","type":"quantitative"},"y":{"field":"y","type":"quantitative"},"color":{"field":"g","type":"nominal","legend":{"orient":"none","legendX":89.5,"legendY":-2.5,"title":null,"symbolSize":8,"symbolType":"circle"}}}}
]},
{"width":119,"height":107,
"layer":[
{"data":{"values":[{}]},"mark":{"type":"rule","color":"#000","strokeWidth":1.2},"encoding":{"x":{"datum":"Control","type":"nominal","bandPosition":-0.211},"y":{"datum":0,"type":"quantitative"},"y2":{"datum":0.4}}},
{"data":{"name":"bars"},"transform":[{"filter":"datum.p=='B'"}],"mark":{"type":"bar","strokeWidth":0.8},
"encoding":{"x":{"field":"g","type":"nominal","scale":{"domain":["Control","cep290⁻/⁻","ahi1⁻/⁻","cep290⁺/⁻; ahi1⁺/⁻","cep290⁻/⁻; ahi1⁺/⁻","cep290⁺/⁻; ahi1⁻/⁻","cep290⁻/⁻; ahi1⁻/⁻"],"paddingInner":0.29,"paddingOuter":0.15},"axis":{"title":null,"labelAngle":-45,"labelFontSize":5.8,"labelFontWeight":"bold","labelFontStyle":{"condition":{"test":"datum.value=='Control'","value":"normal"},"value":"italic"},"ticks":false,"labelPadding":2,"labelLimit":200,"domainWidth":1.2}},
"y":{"field":"y","type":"quantitative","scale":{"domain":[0,0.585],"nice":false},"axis":{"values":[0,0.1,0.2,0.3,0.4],"format":".1f","domain":false,"tickSize":3,"tickWidth":1.1,"labelFontSize":7,"labelFontWeight":"bold","labelPadding":1.5,"title":"OKR Gain","titleFontSize":8,"titleFontWeight":"bold","titleX":-15,"titleY":70.7}},
"fill":{"field":"g","type":"nominal","scale":{"domain":["Control","cep290⁻/⁻","ahi1⁻/⁻","cep290⁺/⁻; ahi1⁺/⁻","cep290⁻/⁻; ahi1⁺/⁻","cep290⁺/⁻; ahi1⁻/⁻","cep290⁻/⁻; ahi1⁻/⁻"],"range":["#000000","#ff0000","#007a00","#ff7f00","#b35ad8","#0000ff","#8e8e8e"]},"legend":null},
"stroke":{"condition":{"test":"indexof(datum.g,'⁻/⁻; ')>0 && slice(datum.g,-3)=='⁻/⁻'","value":"#111"},"value":"transparent"}}},
{"data":{"name":"bars"},"transform":[{"filter":"datum.p=='B'"}],"mark":{"type":"rule","strokeWidth":1},
"encoding":{"x":{"field":"g","type":"nominal"},"y":{"field":"y","type":"quantitative"},"y2":{"field":"hi"},"color":{"field":"g","type":"nominal","scale":{"domain":["Control","cep290⁻/⁻","ahi1⁻/⁻","cep290⁺/⁻; ahi1⁺/⁻","cep290⁻/⁻; ahi1⁺/⁻","cep290⁺/⁻; ahi1⁻/⁻","cep290⁻/⁻; ahi1⁻/⁻"],"range":["#000000","#ff3030","#007a00","#ff7f00","#b35ad8","#0000ff","#333333"]},"legend":null}}},
{"data":{"name":"bars"},"transform":[{"filter":"datum.p=='B'"}],"mark":{"type":"tick","thickness":1,"size":6},
"encoding":{"x":{"field":"g","type":"nominal"},"y":{"field":"hi","type":"quantitative"},"color":{"field":"g","type":"nominal","legend":null}}},
{"data":{"name":"bars"},"transform":[{"filter":"datum.p=='B'"}],"mark":{"type":"text","color":"#fff","fontSize":7,"fontWeight":"bold","baseline":"bottom","dy":-1.5},
"encoding":{"x":{"field":"g","type":"nominal"},"y":{"datum":0,"type":"quantitative"},"text":{"field":"n"}}},
{"data":{"name":"sig"},"transform":[{"filter":"datum.p=='B'"}],"mark":{"type":"rule","color":"#555","strokeWidth":1},
"encoding":{"x":{"field":"a","type":"nominal"},"x2":{"field":"b"},"y":{"field":"y","type":"quantitative"}}},
{"data":{"name":"sig"},"transform":[{"filter":"datum.p=='B' && datum.h==0"}],"mark":{"type":"text","fontSize":7,"fontWeight":"bold","baseline":"bottom","dy":0.5,"color":"#000"},
"encoding":{"x":{"field":"m","type":"nominal"},"y":{"field":"y","type":"quantitative"},"text":{"field":"s"}}},
{"data":{"name":"sig"},"transform":[{"filter":"datum.p=='B' && datum.h==1"}],"mark":{"type":"text","fontSize":7,"fontWeight":"bold","baseline":"bottom","dy":0.5,"color":"#000"},
"encoding":{"x":{"field":"m","type":"nominal","bandPosition":1.2},"y":{"field":"y","type":"quantitative"},"text":{"field":"s"}}}
]},
{"width":103,"height":116,
"layer":[
{"data":{"values":[{}]},"mark":{"type":"text","text":"C","fontSize":18,"fontWeight":"bold","align":"left","baseline":"alphabetic","color":"#000"},"encoding":{"x":{"datum":1.79,"type":"quantitative"},"y":{"datum":0.525,"type":"quantitative"}}},
{"data":{"values":[{}]},"mark":{"type":"rule","color":"#000","strokeWidth":1.2},"encoding":{"x":{"datum":3.18,"type":"quantitative"},"y":{"datum":-0.042,"type":"quantitative"},"y2":{"datum":0.4}}},
{"data":{"values":[{}]},"mark":{"type":"rule","color":"#000","strokeWidth":1.2},"encoding":{"x":{"datum":3.18,"type":"quantitative"},"x2":{"datum":117},"y":{"datum":0,"type":"quantitative"}}},
{"data":{"name":"boxes"},"transform":[{"filter":"datum.p=='C'"}],"mark":{"type":"rect","fill":"#fff","fillOpacity":0,"stroke":"#000","strokeWidth":1.3,"strokeDash":[4,3]},"encoding":{"x":{"field":"x1","type":"quantitative"},"x2":{"field":"x2"},"y":{"field":"y1","type":"quantitative"},"y2":{"field":"y2"}}},
{"data":{"name":"lines"},"transform":[{"filter":"datum.p=='C'"}],"mark":{"type":"errorbar","ticks":true,"size":3,"thickness":0.8},
"encoding":{"x":{"field":"x","type":"quantitative","scale":{"type":"log","domain":[3.18,102.4],"nice":false},"axis":{"values":[10,100],"format":"d","domain":false,"offset":-10,"tickSize":3,"tickWidth":1.1,"labelFontSize":7,"labelFontWeight":"bold","labelPadding":1.5,"title":"Contrast (%)","titleFontSize":6.5,"titleFontWeight":"bold","titlePadding":2,"titleX":51,"titleBaseline":"top"}},
"y":{"field":"y","type":"quantitative","scale":{"domain":[-0.042,0.457],"nice":false,"zero":false},"axis":{"values":[0,0.1,0.2,0.3,0.4],"format":".1f","domain":false,"tickSize":3,"tickWidth":1.1,"labelFontSize":7,"labelFontWeight":"bold","labelPadding":1.5,"title":"OKR Gain","titleFontSize":8,"titleFontWeight":"bold","titleX":-12,"titleY":60.7}},
"yError":{"field":"e"},
"color":{"field":"g","type":"nominal","scale":{"domain":["Control","cep290⁻/⁻","cc2d2a⁻/⁻","cep290⁺/⁻; cc2d2a⁺/⁻","cep290⁻/⁻; cc2d2a⁺/⁻","cep290⁺/⁻; cc2d2a⁻/⁻","cep290⁻/⁻; cc2d2a⁻/⁻"],"range":["#000000","#ff0000","#008000","#ff8000","#c040d0","#0000ff","#000000"]},"legend":{"orient":"none","legendX":105.5,"legendY":10.8,"title":null,"symbolSize":8,"symbolType":"circle"}}}},
{"data":{"name":"lines"},"transform":[{"filter":"datum.p=='C'"}],"mark":{"type":"line","strokeWidth":1.2},
"encoding":{"x":{"field":"x","type":"quantitative"},"y":{"field":"y","type":"quantitative"},"color":{"field":"g","type":"nominal","legend":{"orient":"none","legendX":105.5,"legendY":10.8,"title":null,"symbolSize":8,"symbolType":"circle"}}}},
{"data":{"name":"lines"},"transform":[{"filter":"datum.p=='C'"}],"mark":{"type":"point","filled":true,"size":10,"opacity":1},
"encoding":{"x":{"field":"x","type":"quantitative"},"y":{"field":"y","type":"quantitative"},"color":{"field":"g","type":"nominal","legend":{"orient":"none","legendX":105.5,"legendY":10.8,"title":null,"symbolSize":8,"symbolType":"circle"}}}}
]},
{"width":122,"height":107,
"layer":[
{"data":{"values":[{}]},"mark":{"type":"rule","color":"#000","strokeWidth":1.2},"encoding":{"x":{"datum":"Control","type":"nominal","bandPosition":-0.211},"y":{"datum":0,"type":"quantitative"},"y2":{"datum":0.4}}},
{"data":{"name":"bars"},"transform":[{"filter":"datum.p=='C'"}],"mark":{"type":"bar","strokeWidth":0.8},
"encoding":{"x":{"field":"g","type":"nominal","scale":{"domain":["Control","cep290⁻/⁻","cc2d2a⁻/⁻","cep290⁺/⁻; cc2d2a⁺/⁻","cep290⁻/⁻; cc2d2a⁺/⁻","cep290⁺/⁻; cc2d2a⁻/⁻","cep290⁻/⁻; cc2d2a⁻/⁻"],"paddingInner":0.29,"paddingOuter":0.15},"axis":{"title":null,"labelAngle":-45,"labelFontSize":5.8,"labelFontWeight":"bold","labelFontStyle":{"condition":{"test":"datum.value=='Control'","value":"normal"},"value":"italic"},"ticks":false,"labelPadding":2,"labelLimit":200,"domainWidth":1.2}},
"y":{"field":"y","type":"quantitative","scale":{"domain":[0,0.589],"nice":false},"axis":{"values":[0,0.1,0.2,0.3,0.4],"format":".1f","domain":false,"tickSize":3,"tickWidth":1.1,"labelFontSize":7,"labelFontWeight":"bold","labelPadding":1.5,"title":"OKR Gain","titleFontSize":8,"titleFontWeight":"bold","titleX":-14,"titleY":71}},
"fill":{"field":"g","type":"nominal","scale":{"domain":["Control","cep290⁻/⁻","cc2d2a⁻/⁻","cep290⁺/⁻; cc2d2a⁺/⁻","cep290⁻/⁻; cc2d2a⁺/⁻","cep290⁺/⁻; cc2d2a⁻/⁻","cep290⁻/⁻; cc2d2a⁻/⁻"],"range":["#000000","#ff0000","#007a00","#ff7f00","#b35ad8","#0000ff","#8e8e8e"]},"legend":null},
"stroke":{"condition":{"test":"indexof(datum.g,'⁻/⁻; ')>0 && slice(datum.g,-3)=='⁻/⁻'","value":"#111"},"value":"transparent"}}},
{"data":{"name":"bars"},"transform":[{"filter":"datum.p=='C'"}],"mark":{"type":"rule","strokeWidth":1},
"encoding":{"x":{"field":"g","type":"nominal"},"y":{"field":"y","type":"quantitative"},"y2":{"field":"hi"},"color":{"field":"g","type":"nominal","scale":{"domain":["Control","cep290⁻/⁻","cc2d2a⁻/⁻","cep290⁺/⁻; cc2d2a⁺/⁻","cep290⁻/⁻; cc2d2a⁺/⁻","cep290⁺/⁻; cc2d2a⁻/⁻","cep290⁻/⁻; cc2d2a⁻/⁻"],"range":["#000000","#ff3030","#007a00","#ff7f00","#b35ad8","#0000ff","#333333"]},"legend":null}}},
{"data":{"name":"bars"},"transform":[{"filter":"datum.p=='C'"}],"mark":{"type":"tick","thickness":1,"size":6},
"encoding":{"x":{"field":"g","type":"nominal"},"y":{"field":"hi","type":"quantitative"},"color":{"field":"g","type":"nominal","legend":null}}},
{"data":{"name":"bars"},"transform":[{"filter":"datum.p=='C'"}],"mark":{"type":"text","color":"#fff","fontSize":7,"fontWeight":"bold","baseline":"bottom","dy":-1.5},
"encoding":{"x":{"field":"g","type":"nominal"},"y":{"datum":0,"type":"quantitative"},"text":{"field":"n"}}},
{"data":{"name":"sig"},"transform":[{"filter":"datum.p=='C'"}],"mark":{"type":"rule","color":"#555","strokeWidth":1},
"encoding":{"x":{"field":"a","type":"nominal"},"x2":{"field":"b"},"y":{"field":"y","type":"quantitative"}}},
{"data":{"name":"sig"},"transform":[{"filter":"datum.p=='C' && datum.h==0"}],"mark":{"type":"text","fontSize":7,"fontWeight":"bold","baseline":"bottom","dy":0.5,"color":"#000"},
"encoding":{"x":{"field":"m","type":"nominal"},"y":{"field":"y","type":"quantitative"},"text":{"field":"s"}}}
]},
{"width":89,"height":107,
"layer":[
{"data":{"values":[{}]},"mark":{"type":"text","text":"D","fontSize":18,"fontWeight":"bold","align":"left","baseline":"alphabetic","color":"#000"},"encoding":{"x":{"datum":0.00244,"type":"quantitative"},"y":{"datum":0.45,"type":"quantitative"}}},
{"data":{"values":[{}]},"mark":{"type":"rule","color":"#000","strokeWidth":1.2},"encoding":{"x":{"datum":0.01,"type":"quantitative"},"y":{"datum":-0.048,"type":"quantitative"},"y2":{"datum":0.4}}},
{"data":{"values":[{}]},"mark":{"type":"rule","color":"#000","strokeWidth":1.2},"encoding":{"x":{"datum":0.01,"type":"quantitative"},"x2":{"datum":0.224},"y":{"datum":-0.048,"type":"quantitative"}}},
{"data":{"values":[{}]},"mark":{"type":"rule","color":"#bbbbbb","strokeWidth":0.8,"strokeDash":[2,1]},"encoding":{"x":{"datum":0.01,"type":"quantitative"},"x2":{"datum":0.224},"y":{"datum":0,"type":"quantitative"}}},
{"data":{"name":"boxes"},"transform":[{"filter":"datum.p=='D'"}],"mark":{"type":"rect","fill":"#fff","fillOpacity":0,"stroke":"#000","strokeWidth":1.3,"strokeDash":[4,3]},"encoding":{"x":{"field":"x1","type":"quantitative"},"x2":{"field":"x2"},"y":{"field":"y1","type":"quantitative"},"y2":{"field":"y2"}}},
{"data":{"name":"lines"},"transform":[{"filter":"datum.p=='D'"}],"mark":{"type":"errorbar","ticks":true,"size":3,"thickness":0.8},
"encoding":{"x":{"field":"x","type":"quantitative","scale":{"type":"log","domain":[0.01,0.1296],"nice":false},"axis":{"values":[0.01,0.1],"format":".2~f","domain":false,"tickSize":3,"tickWidth":1.1,"labelFontSize":7,"labelFontWeight":"bold","labelPadding":1.5,"title":"Spatial frequency (cycles/degree)","titleFontSize":6,"titleFontWeight":"bold","titlePadding":2,"titleX":54,"titleBaseline":"top"}},
"y":{"field":"y","type":"quantitative","scale":{"domain":[-0.048,0.4055],"nice":false,"zero":false},"axis":{"values":[0,0.1,0.2,0.3,0.4],"format":".1f","domain":false,"tickSize":3,"tickWidth":1.1,"labelFontSize":7,"labelFontWeight":"bold","labelPadding":1.5,"title":"OKR Gain","titleFontSize":8,"titleFontWeight":"bold","titleX":-18,"titleY":50.7}},
"yError":{"field":"e"},
"color":{"field":"g","type":"nominal","scale":{"domain":["Control","cep290⁻/⁻","cc2d2a⁻/⁻","cep290⁺/⁻; cc2d2a⁺/⁻","cep290⁻/⁻; cc2d2a⁺/⁻","cep290⁺/⁻; cc2d2a⁻/⁻","cep290⁻/⁻; cc2d2a⁻/⁻"],"range":["#000000","#ff0000","#008000","#ff8000","#c040d0","#0000ff","#000000"]},"legend":{"orient":"none","legendX":89.5,"legendY":-2.2,"title":null,"symbolSize":8,"symbolType":"circle"}}}},
{"data":{"name":"lines"},"transform":[{"filter":"datum.p=='D'"}],"mark":{"type":"line","strokeWidth":1.2},
"encoding":{"x":{"field":"x","type":"quantitative"},"y":{"field":"y","type":"quantitative"},"color":{"field":"g","type":"nominal","legend":{"orient":"none","legendX":89.5,"legendY":-2.2,"title":null,"symbolSize":8,"symbolType":"circle"}}}},
{"data":{"name":"lines"},"transform":[{"filter":"datum.p=='D'"}],"mark":{"type":"point","filled":true,"size":10,"opacity":1},
"encoding":{"x":{"field":"x","type":"quantitative"},"y":{"field":"y","type":"quantitative"},"color":{"field":"g","type":"nominal","legend":{"orient":"none","legendX":89.5,"legendY":-2.2,"title":null,"symbolSize":8,"symbolType":"circle"}}}}
]},
{"width":119,"height":107,
"layer":[
{"data":{"values":[{}]},"mark":{"type":"rule","color":"#000","strokeWidth":1.2},"encoding":{"x":{"datum":"Control","type":"nominal","bandPosition":-0.211},"y":{"datum":0,"type":"quantitative"},"y2":{"datum":0.4}}},
{"data":{"name":"bars"},"transform":[{"filter":"datum.p=='D'"}],"mark":{"type":"bar","strokeWidth":0.8},
"encoding":{"x":{"field":"g","type":"nominal","scale":{"domain":["Control","cep290⁻/⁻","cc2d2a⁻/⁻","cep290⁺/⁻; cc2d2a⁺/⁻","cep290⁻/⁻; cc2d2a⁺/⁻","cep290⁺/⁻; cc2d2a⁻/⁻","cep290⁻/⁻; cc2d2a⁻/⁻"],"paddingInner":0.29,"paddingOuter":0.15},"axis":{"title":null,"labelAngle":-45,"labelFontSize":5.8,"labelFontWeight":"bold","labelFontStyle":{"condition":{"test":"datum.value=='Control'","value":"normal"},"value":"italic"},"ticks":false,"labelPadding":2,"labelLimit":200,"domainWidth":1.2}},
"y":{"field":"y","type":"quantitative","scale":{"domain":[0,0.589],"nice":false},"axis":{"values":[0,0.1,0.2,0.3,0.4],"format":".1f","domain":false,"tickSize":3,"tickWidth":1.1,"labelFontSize":7,"labelFontWeight":"bold","labelPadding":1.5,"title":"OKR Gain","titleFontSize":8,"titleFontWeight":"bold","titleX":-15,"titleY":71}},
"fill":{"field":"g","type":"nominal","scale":{"domain":["Control","cep290⁻/⁻","cc2d2a⁻/⁻","cep290⁺/⁻; cc2d2a⁺/⁻","cep290⁻/⁻; cc2d2a⁺/⁻","cep290⁺/⁻; cc2d2a⁻/⁻","cep290⁻/⁻; cc2d2a⁻/⁻"],"range":["#000000","#ff0000","#007a00","#ff7f00","#b35ad8","#0000ff","#8e8e8e"]},"legend":null},
"stroke":{"condition":{"test":"indexof(datum.g,'⁻/⁻; ')>0 && slice(datum.g,-3)=='⁻/⁻'","value":"#111"},"value":"transparent"}}},
{"data":{"name":"bars"},"transform":[{"filter":"datum.p=='D'"}],"mark":{"type":"rule","strokeWidth":1},
"encoding":{"x":{"field":"g","type":"nominal"},"y":{"field":"y","type":"quantitative"},"y2":{"field":"hi"},"color":{"field":"g","type":"nominal","scale":{"domain":["Control","cep290⁻/⁻","cc2d2a⁻/⁻","cep290⁺/⁻; cc2d2a⁺/⁻","cep290⁻/⁻; cc2d2a⁺/⁻","cep290⁺/⁻; cc2d2a⁻/⁻","cep290⁻/⁻; cc2d2a⁻/⁻"],"range":["#000000","#ff3030","#007a00","#ff7f00","#b35ad8","#0000ff","#333333"]},"legend":null}}},
{"data":{"name":"bars"},"transform":[{"filter":"datum.p=='D'"}],"mark":{"type":"tick","thickness":1,"size":6},
"encoding":{"x":{"field":"g","type":"nominal"},"y":{"field":"hi","type":"quantitative"},"color":{"field":"g","type":"nominal","legend":null}}},
{"data":{"name":"bars"},"transform":[{"filter":"datum.p=='D'"}],"mark":{"type":"text","color":"#fff","fontSize":7,"fontWeight":"bold","baseline":"bottom","dy":-1.5},
"encoding":{"x":{"field":"g","type":"nominal"},"y":{"datum":0,"type":"quantitative"},"text":{"field":"n"}}},
{"data":{"name":"sig"},"transform":[{"filter":"datum.p=='D'"}],"mark":{"type":"rule","color":"#555","strokeWidth":1},
"encoding":{"x":{"field":"a","type":"nominal"},"x2":{"field":"b"},"y":{"field":"y","type":"quantitative"}}},
{"data":{"name":"sig"},"transform":[{"filter":"datum.p=='D' && datum.h==0"}],"mark":{"type":"text","fontSize":7,"fontWeight":"bold","baseline":"bottom","dy":0.5,"color":"#000"},
"encoding":{"x":{"field":"m","type":"nominal"},"y":{"field":"y","type":"quantitative"},"text":{"field":"s"}}},
{"data":{"name":"sig"},"transform":[{"filter":"datum.p=='D' && datum.h==1"}],"mark":{"type":"text","fontSize":7,"fontWeight":"bold","baseline":"bottom","dy":0.5,"color":"#000"},
"encoding":{"x":{"field":"m","type":"nominal","bandPosition":1.2},"y":{"field":"y","type":"quantitative"},"text":{"field":"s"}}}
]},
{"width":103,"height":129,
"layer":[
{"data":{"values":[{}]},"mark":{"type":"text","text":"E","fontSize":18,"fontWeight":"bold","align":"left","baseline":"alphabetic","color":"#000"},"encoding":{"x":{"datum":1.76,"type":"quantitative"},"y":{"datum":0.472,"type":"quantitative"}}},
{"data":{"values":[{}]},"mark":{"type":"rule","color":"#000","strokeWidth":1.2},"encoding":{"x":{"datum":3.18,"type":"quantitative"},"y":{"datum":-0.051,"type":"quantitative"},"y2":{"datum":0.4}}},
{"data":{"values":[{}]},"mark":{"type":"rule","color":"#000","strokeWidth":1.2},"encoding":{"x":{"datum":3.18,"type":"quantitative"},"x2":{"datum":117},"y":{"datum":0,"type":"quantitative"}}},
{"data":{"name":"boxes"},"transform":[{"filter":"datum.p=='E'"}],"mark":{"type":"rect","fill":"#fff","fillOpacity":0,"stroke":"#000","strokeWidth":1.3,"strokeDash":[4,3]},"encoding":{"x":{"field":"x1","type":"quantitative"},"x2":{"field":"x2"},"y":{"field":"y1","type":"quantitative"},"y2":{"field":"y2"}}},
{"data":{"name":"lines"},"transform":[{"filter":"datum.p=='E'"}],"mark":{"type":"errorbar","ticks":true,"size":3,"thickness":0.8},
"encoding":{"x":{"field":"x","type":"quantitative","scale":{"type":"log","domain":[3.18,102.4],"nice":false},"axis":{"values":[10,100],"format":"d","domain":false,"offset":-12,"tickSize":3,"tickWidth":1.1,"labelFontSize":7,"labelFontWeight":"bold","labelPadding":1.5,"title":"Contrast (%)","titleFontSize":6.5,"titleFontWeight":"bold","titlePadding":2,"titleX":51,"titleBaseline":"top"}},
"y":{"field":"y","type":"quantitative","scale":{"domain":[-0.051,0.505],"nice":false,"zero":false},"axis":{"values":[0,0.1,0.2,0.3,0.4],"format":".1f","domain":false,"tickSize":3,"tickWidth":1.1,"labelFontSize":7,"labelFontWeight":"bold","labelPadding":1.5,"title":"OKR Gain","titleFontSize":8,"titleFontWeight":"bold","titleX":-12,"titleY":70}},
"yError":{"field":"e"},
"color":{"field":"g","type":"nominal","scale":{"domain":["Control","cep290⁻/⁻","arl13b⁻/⁻","cep290⁺/⁻; arl13b⁺/⁻","cep290⁻/⁻; arl13b⁺/⁻","cep290⁺/⁻; arl13b⁻/⁻","cep290⁻/⁻; arl13b⁻/⁻"],"range":["#000000","#ff0000","#008000","#ff8000","#c040d0","#0000ff","#000000"]},"legend":{"orient":"none","legendX":105.5,"legendY":22,"title":null,"symbolSize":8,"symbolType":"circle"}}}},
{"data":{"name":"lines"},"transform":[{"filter":"datum.p=='E'"}],"mark":{"type":"line","strokeWidth":1.2},
"encoding":{"x":{"field":"x","type":"quantitative"},"y":{"field":"y","type":"quantitative"},"color":{"field":"g","type":"nominal","legend":{"orient":"none","legendX":105.5,"legendY":22,"title":null,"symbolSize":8,"symbolType":"circle"}}}},
{"data":{"name":"lines"},"transform":[{"filter":"datum.p=='E'"}],"mark":{"type":"point","filled":true,"size":10,"opacity":1},
"encoding":{"x":{"field":"x","type":"quantitative"},"y":{"field":"y","type":"quantitative"},"color":{"field":"g","type":"nominal","legend":{"orient":"none","legendX":105.5,"legendY":22,"title":null,"symbolSize":8,"symbolType":"circle"}}}}
]},
{"width":122,"height":120,
"layer":[
{"data":{"values":[{}]},"mark":{"type":"rule","color":"#000","strokeWidth":1.2},"encoding":{"x":{"datum":"Control","type":"nominal","bandPosition":-0.211},"y":{"datum":0,"type":"quantitative"},"y2":{"datum":0.4}}},
{"data":{"name":"bars"},"transform":[{"filter":"datum.p=='E'"}],"mark":{"type":"bar","strokeWidth":0.8},
"encoding":{"x":{"field":"g","type":"nominal","scale":{"domain":["Control","cep290⁻/⁻","arl13b⁻/⁻","cep290⁺/⁻; arl13b⁺/⁻","cep290⁻/⁻; arl13b⁺/⁻","cep290⁺/⁻; arl13b⁻/⁻","cep290⁻/⁻; arl13b⁻/⁻"],"paddingInner":0.29,"paddingOuter":0.15},"axis":{"title":null,"labelAngle":-45,"labelFontSize":5.8,"labelFontWeight":"bold","labelFontStyle":{"condition":{"test":"datum.value=='Control'","value":"normal"},"value":"italic"},"ticks":false,"labelPadding":2,"labelLimit":200,"domainWidth":1.2}},
"y":{"field":"y","type":"quantitative","scale":{"domain":[0,0.667],"nice":false},"axis":{"values":[0,0.1,0.2,0.3,0.4],"format":".1f","domain":false,"tickSize":3,"tickWidth":1.1,"labelFontSize":7,"labelFontWeight":"bold","labelPadding":1.5,"title":"OKR Gain","titleFontSize":8,"titleFontWeight":"bold","titleX":-15,"titleY":83.9}},
"fill":{"field":"g","type":"nominal","scale":{"domain":["Control","cep290⁻/⁻","arl13b⁻/⁻","cep290⁺/⁻; arl13b⁺/⁻","cep290⁻/⁻; arl13b⁺/⁻","cep290⁺/⁻; arl13b⁻/⁻","cep290⁻/⁻; arl13b⁻/⁻"],"range":["#000000","#ff0000","#007a00","#ff7f00","#b35ad8","#0000ff","#8e8e8e"]},"legend":null},
"stroke":{"condition":{"test":"indexof(datum.g,'⁻/⁻; ')>0 && slice(datum.g,-3)=='⁻/⁻'","value":"#111"},"value":"transparent"}}},
{"data":{"name":"bars"},"transform":[{"filter":"datum.p=='E'"}],"mark":{"type":"rule","strokeWidth":1},
"encoding":{"x":{"field":"g","type":"nominal"},"y":{"field":"y","type":"quantitative"},"y2":{"field":"hi"},"color":{"field":"g","type":"nominal","scale":{"domain":["Control","cep290⁻/⁻","arl13b⁻/⁻","cep290⁺/⁻; arl13b⁺/⁻","cep290⁻/⁻; arl13b⁺/⁻","cep290⁺/⁻; arl13b⁻/⁻","cep290⁻/⁻; arl13b⁻/⁻"],"range":["#000000","#ff3030","#007a00","#ff7f00","#b35ad8","#0000ff","#333333"]},"legend":null}}},
{"data":{"name":"bars"},"transform":[{"filter":"datum.p=='E'"}],"mark":{"type":"tick","thickness":1,"size":6},
"encoding":{"x":{"field":"g","type":"nominal"},"y":{"field":"hi","type":"quantitative"},"color":{"field":"g","type":"nominal","legend":null}}},
{"data":{"name":"bars"},"transform":[{"filter":"datum.p=='E'"}],"mark":{"type":"text","color":"#fff","fontSize":7,"fontWeight":"bold","baseline":"bottom","dy":-1.5},
"encoding":{"x":{"field":"g","type":"nominal"},"y":{"datum":0,"type":"quantitative"},"text":{"field":"n"}}},
{"data":{"name":"sig"},"transform":[{"filter":"datum.p=='E'"}],"mark":{"type":"rule","color":"#555","strokeWidth":1},
"encoding":{"x":{"field":"a","type":"nominal"},"x2":{"field":"b"},"y":{"field":"y","type":"quantitative"}}},
{"data":{"name":"sig"},"transform":[{"filter":"datum.p=='E' && datum.h==0"}],"mark":{"type":"text","fontSize":7,"fontWeight":"bold","baseline":"bottom","dy":0.5,"color":"#000"},
"encoding":{"x":{"field":"m","type":"nominal"},"y":{"field":"y","type":"quantitative"},"text":{"field":"s"}}},
{"data":{"name":"sig"},"transform":[{"filter":"datum.p=='E' && datum.h==1"}],"mark":{"type":"text","fontSize":7,"fontWeight":"bold","baseline":"bottom","dy":0.5,"color":"#000"},
"encoding":{"x":{"field":"m","type":"nominal","bandPosition":1.2},"y":{"field":"y","type":"quantitative"},"text":{"field":"s"}}}
]},
{"width":89,"height":114,
"layer":[
{"data":{"values":[{}]},"mark":{"type":"text","text":"F","fontSize":18,"fontWeight":"bold","align":"left","baseline":"alphabetic","color":"#000"},"encoding":{"x":{"datum":0.00281,"type":"quantitative"},"y":{"datum":0.39,"type":"quantitative"}}},
{"data":{"values":[{}]},"mark":{"type":"rule","color":"#000","strokeWidth":1.2},"encoding":{"x":{"datum":0.01,"type":"quantitative"},"y":{"datum":-0.052,"type":"quantitative"},"y2":{"datum":0.4}}},
{"data":{"values":[{}]},"mark":{"type":"rule","color":"#000","strokeWidth":1.2},"encoding":{"x":{"datum":0.01,"type":"quantitative"},"x2":{"datum":0.22},"y":{"datum":-0.052,"type":"quantitative"}}},
{"data":{"values":[{}]},"mark":{"type":"rule","color":"#bbbbbb","strokeWidth":0.8,"strokeDash":[2,1]},"encoding":{"x":{"datum":0.01,"type":"quantitative"},"x2":{"datum":0.22},"y":{"datum":0,"type":"quantitative"}}},
{"data":{"name":"boxes"},"transform":[{"filter":"datum.p=='F'"}],"mark":{"type":"rect","fill":"#fff","fillOpacity":0,"stroke":"#000","strokeWidth":1.3,"strokeDash":[4,3]},"encoding":{"x":{"field":"x1","type":"quantitative"},"x2":{"field":"x2"},"y":{"field":"y1","type":"quantitative"},"y2":{"field":"y2"}}},
{"data":{"name":"lines"},"transform":[{"filter":"datum.p=='F'"}],"mark":{"type":"errorbar","ticks":true,"size":3,"thickness":0.8},
"encoding":{"x":{"field":"x","type":"quantitative","scale":{"type":"log","domain":[0.01,0.1054],"nice":false},"axis":{"values":[0.01,0.1],"format":".2~f","domain":false,"tickSize":3,"tickWidth":1.1,"labelFontSize":7,"labelFontWeight":"bold","labelPadding":1.5,"title":"Spatial frequency (cycles/degree)","titleFontSize":6,"titleFontWeight":"bold","titlePadding":2,"titleX":58,"titleBaseline":"top"}},
"y":{"field":"y","type":"quantitative","scale":{"domain":[-0.052,0.401],"nice":false,"zero":false},"axis":{"values":[0,0.1,0.2,0.3,0.4],"format":".1f","domain":false,"tickSize":3,"tickWidth":1.1,"labelFontSize":7,"labelFontWeight":"bold","labelPadding":1.5,"title":"OKR Gain","titleFontSize":8,"titleFontWeight":"bold","titleX":-18,"titleY":58.7}},
"yError":{"field":"e"},
"color":{"field":"g","type":"nominal","scale":{"domain":["Control","cep290⁻/⁻","arl13b⁻/⁻","cep290⁺/⁻; arl13b⁺/⁻","cep290⁻/⁻; arl13b⁺/⁻","cep290⁺/⁻; arl13b⁻/⁻","cep290⁻/⁻; arl13b⁻/⁻"],"range":["#000000","#ff0000","#008000","#ff8000","#c040d0","#0000ff","#000000"]},"legend":{"orient":"none","legendX":99.5,"legendY":-3.2,"title":null,"symbolSize":8,"symbolType":"circle"}}}},
{"data":{"name":"lines"},"transform":[{"filter":"datum.p=='F'"}],"mark":{"type":"line","strokeWidth":1.2},
"encoding":{"x":{"field":"x","type":"quantitative"},"y":{"field":"y","type":"quantitative"},"color":{"field":"g","type":"nominal","legend":{"orient":"none","legendX":99.5,"legendY":-3.2,"title":null,"symbolSize":8,"symbolType":"circle"}}}},
{"data":{"name":"lines"},"transform":[{"filter":"datum.p=='F'"}],"mark":{"type":"point","filled":true,"size":10,"opacity":1},
"encoding":{"x":{"field":"x","type":"quantitative"},"y":{"field":"y","type":"quantitative"},"color":{"field":"g","type":"nominal","legend":{"orient":"none","legendX":99.5,"legendY":-3.2,"title":null,"symbolSize":8,"symbolType":"circle"}}}}
]},
{"width":120,"height":115,
"layer":[
{"data":{"values":[{}]},"mark":{"type":"rule","color":"#000","strokeWidth":1.2},"encoding":{"x":{"datum":"Control","type":"nominal","bandPosition":-0.211},"y":{"datum":0,"type":"quantitative"},"y2":{"datum":0.4}}},
{"data":{"name":"bars"},"transform":[{"filter":"datum.p=='F'"}],"mark":{"type":"bar","strokeWidth":0.8},
"encoding":{"x":{"field":"g","type":"nominal","scale":{"domain":["Control","cep290⁻/⁻","arl13b⁻/⁻","cep290⁺/⁻; arl13b⁺/⁻","cep290⁻/⁻; arl13b⁺/⁻","cep290⁺/⁻; arl13b⁻/⁻","cep290⁻/⁻; arl13b⁻/⁻"],"paddingInner":0.29,"paddingOuter":0.15},"axis":{"title":null,"labelAngle":-45,"labelFontSize":5.8,"labelFontWeight":"bold","labelFontStyle":{"condition":{"test":"datum.value=='Control'","value":"normal"},"value":"italic"},"ticks":false,"labelPadding":2,"labelLimit":200,"domainWidth":1.2}},
"y":{"field":"y","type":"quantitative","scale":{"domain":[0,0.626],"nice":false},"axis":{"values":[0,0.1,0.2,0.3,0.4],"format":".1f","domain":false,"tickSize":3,"tickWidth":1.1,"labelFontSize":7,"labelFontWeight":"bold","labelPadding":1.5,"title":"OKR Gain","titleFontSize":8,"titleFontWeight":"bold","titleX":-15,"titleY":78}},
"fill":{"field":"g","type":"nominal","scale":{"domain":["Control","cep290⁻/⁻","arl13b⁻/⁻","cep290⁺/⁻; arl13b⁺/⁻","cep290⁻/⁻; arl13b⁺/⁻","cep290⁺/⁻; arl13b⁻/⁻","cep290⁻/⁻; arl13b⁻/⁻"],"range":["#000000","#ff0000","#007a00","#ff7f00","#b35ad8","#0000ff","#8e8e8e"]},"legend":null},
"stroke":{"condition":{"test":"indexof(datum.g,'⁻/⁻; ')>0 && slice(datum.g,-3)=='⁻/⁻'","value":"#111"},"value":"transparent"}}},
{"data":{"name":"bars"},"transform":[{"filter":"datum.p=='F'"}],"mark":{"type":"rule","strokeWidth":1},
"encoding":{"x":{"field":"g","type":"nominal"},"y":{"field":"y","type":"quantitative"},"y2":{"field":"hi"},"color":{"field":"g","type":"nominal","scale":{"domain":["Control","cep290⁻/⁻","arl13b⁻/⁻","cep290⁺/⁻; arl13b⁺/⁻","cep290⁻/⁻; arl13b⁺/⁻","cep290⁺/⁻; arl13b⁻/⁻","cep290⁻/⁻; arl13b⁻/⁻"],"range":["#000000","#ff3030","#007a00","#ff7f00","#b35ad8","#0000ff","#333333"]},"legend":null}}},
{"data":{"name":"bars"},"transform":[{"filter":"datum.p=='F'"}],"mark":{"type":"tick","thickness":1,"size":6},
"encoding":{"x":{"field":"g","type":"nominal"},"y":{"field":"hi","type":"quantitative"},"color":{"field":"g","type":"nominal","legend":null}}},
{"data":{"name":"bars"},"transform":[{"filter":"datum.p=='F'"}],"mark":{"type":"text","color":"#fff","fontSize":7,"fontWeight":"bold","baseline":"bottom","dy":-1.5},
"encoding":{"x":{"field":"g","type":"nominal"},"y":{"datum":0,"type":"quantitative"},"text":{"field":"n"}}},
{"data":{"name":"sig"},"transform":[{"filter":"datum.p=='F'"}],"mark":{"type":"rule","color":"#555","strokeWidth":1},
"encoding":{"x":{"field":"a","type":"nominal"},"x2":{"field":"b"},"y":{"field":"y","type":"quantitative"}}},
{"data":{"name":"sig"},"transform":[{"filter":"datum.p=='F' && datum.h==0"}],"mark":{"type":"text","fontSize":7,"fontWeight":"bold","baseline":"bottom","dy":0.5,"color":"#000"},
"encoding":{"x":{"field":"m","type":"nominal"},"y":{"field":"y","type":"quantitative"},"text":{"field":"s"}}},
{"data":{"name":"sig"},"transform":[{"filter":"datum.p=='F' && datum.h==1"}],"mark":{"type":"text","fontSize":7,"fontWeight":"bold","baseline":"bottom","dy":0.5,"color":"#000"},
"encoding":{"x":{"field":"m","type":"nominal","bandPosition":1.2},"y":{"field":"y","type":"quantitative"},"text":{"field":"s"}}}
]}
]
}
